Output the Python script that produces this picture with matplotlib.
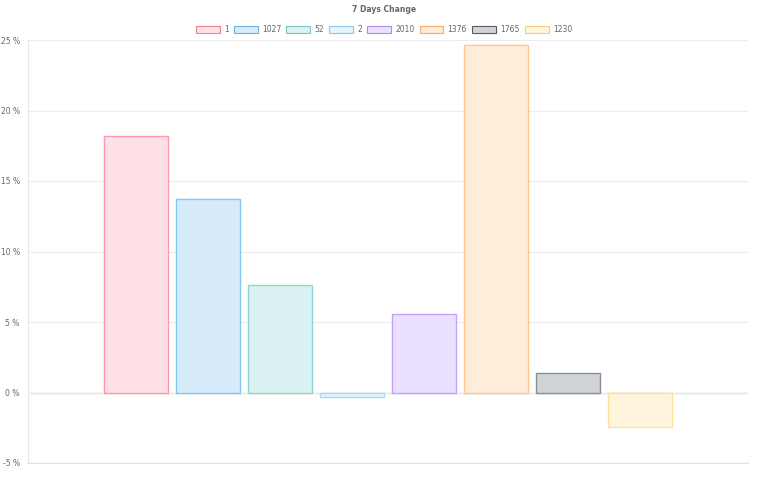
import matplotlib.pyplot as plt
from matplotlib.patches import Patch

# data
labels = ['1', '1027', '52', '2', '2010', '1376', '1765', '1230']
values = [18.18, 13.75, 7.62, -0.35, 5.6, 24.62, 1.4, -2.42]
fills = ['#ffe0e6', '#d7ecfb', '#dbf2f2', '#e4f4fc', '#ebe0ff', '#ffecd9', '#d1d4d7', '#fff5dd']
edges = ['#ff99ad', '#86c5f0', '#8fd5d5', '#a9d8f3', '#c4a3ff', '#ffc48f', '#868e97', '#ffe09a']
yticks = [-5, 0, 5, 10, 15, 20, 25]

plt.rcParams['font.family'] = ['DejaVu Sans']
fig = plt.figure(figsize=(7.68, 4.8), dpi=100)
ax = fig.add_axes([28 / 768, 1 - 463 / 480, 720 / 768, 423 / 480])

n = len(labels)
step = 0.1
for i, (lab, v) in enumerate(zip(labels, values)):
    x = (i - (n - 1) / 2) * step
    ax.bar(x, v, width=0.09, color=fills[i], edgecolor=edges[i], linewidth=1.0, label=lab, zorder=2)

ax.set_xlim(-0.5, 0.5)
ax.set_ylim(-5, 25)
ax.set_xticks([])
ax.set_yticks(yticks)
ax.set_yticklabels([f'{t} %' for t in yticks])
ax.tick_params(axis='y', length=0, pad=6, labelsize=5.5, labelcolor='#666666')
ax.grid(axis='y', color='#ececec', linewidth=0.8, zorder=0)
ax.axhline(0, color='#d0d0d0', linewidth=1.0, zorder=1)
for s in ['top', 'right']:
    ax.spines[s].set_visible(False)
ax.spines['left'].set_color('#e8e8e8')
ax.spines['bottom'].set_color('#e0e0e0')
ax.spines['left'].set_linewidth(0.8)
ax.spines['bottom'].set_linewidth(0.8)

leg_edges = ['#f07e96', '#6fb3e3', '#7cc4c4', '#8fc6e6', '#b08cf0', '#f0ad72', '#555b62', '#f0cf80']
handles = [Patch(facecolor=fills[i], edgecolor=leg_edges[i], linewidth=0.8) for i in range(n)]
fig.legend(handles, labels, loc='center', bbox_to_anchor=(0.5, 1 - 30 / 480), ncol=n,
           frameon=False, fontsize=5.5, labelcolor='#666666', handlelength=3.1, handleheight=1.0,
           handletextpad=0.55, columnspacing=0.7, borderpad=0)

fig.text(0.5, 1 - 10 / 480, '7 Days Change', ha='center', va='center', fontsize=5.5,
         fontweight='bold', color='#666666')

fig.savefig('out.png', dpi=100)
